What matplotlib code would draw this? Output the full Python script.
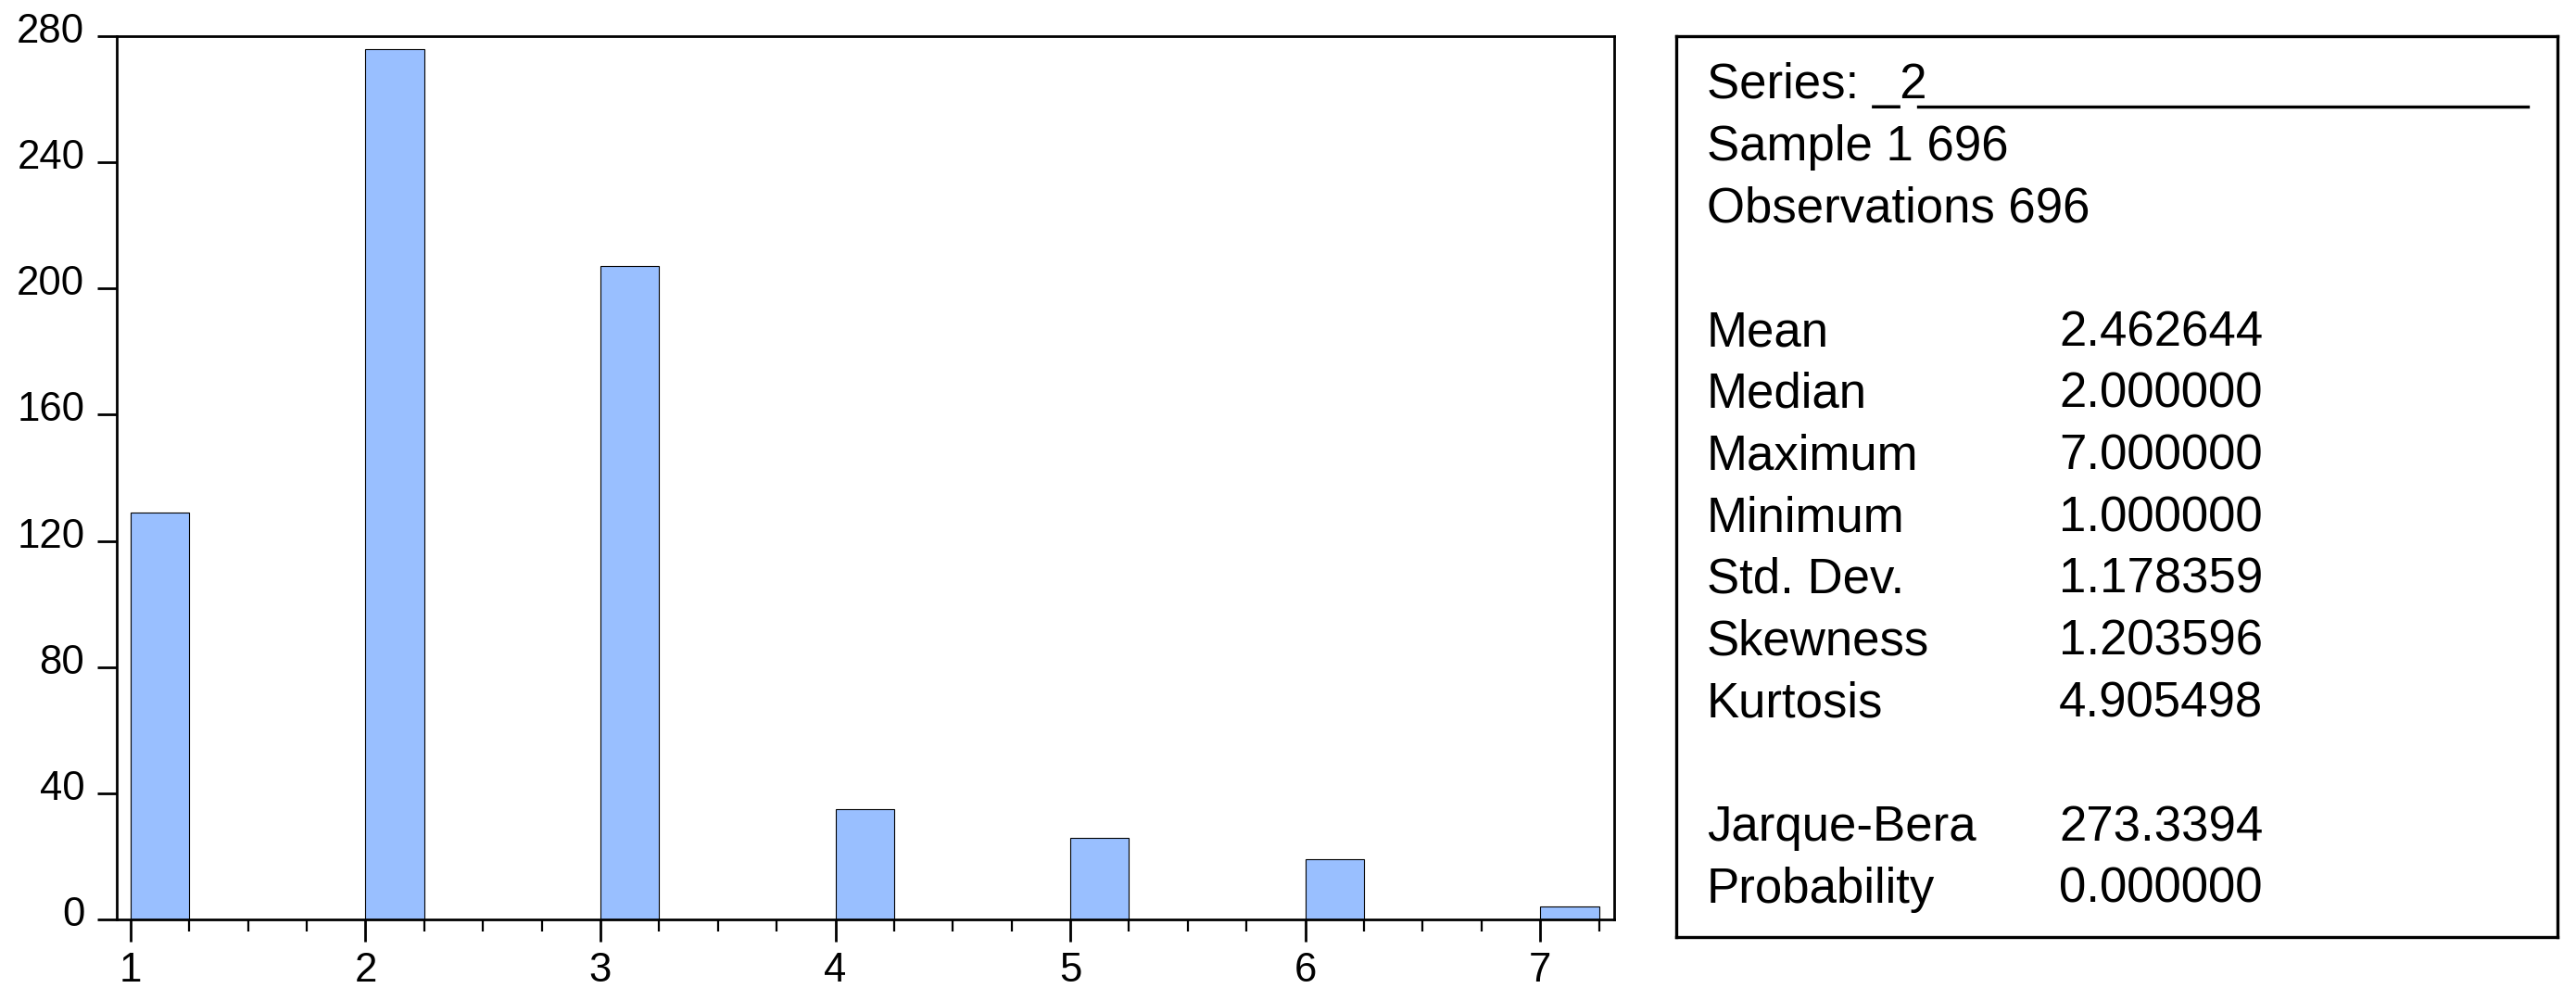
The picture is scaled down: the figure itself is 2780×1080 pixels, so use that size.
import matplotlib
matplotlib.use("Agg")
import matplotlib.pyplot as plt
import matplotlib.transforms as mtransforms
from matplotlib.lines import Line2D
import numpy as np

# ---- data ----
categories = [1, 2, 3, 4, 5, 6, 7]
counts = [129, 276, 207, 35, 26, 19, 4]
yticks = [0, 40, 80, 120, 160, 200, 240, 280]
series_name = "_2"
header_lines = ["Sample 1 696", "Observations 696"]
stat_labels = ["Mean", "Median", "Maximum", "Minimum", "Std. Dev.", "Skewness", "Kurtosis"]
stat_values = ["2.462644", "2.000000", "7.000000", "1.000000", "1.178359", "1.203596", "4.905498"]
test_labels = ["Jarque-Bera", "Probability"]
test_values = ["273.3394", "0.000000"]

plt.rcParams['font.family'] = ['Liberation Sans', 'DejaVu Sans']

W, H = 2780, 1080
DPI = 100
fig = plt.figure(figsize=(W / DPI, H / DPI), dpi=DPI)
fig.patch.set_facecolor('white')

def fx(px):
    return px / W

def fy(py):
    return 1 - py / H

# histogram axes
left, right, top, bottom = 126, 1742, 39, 992
ax = fig.add_axes([fx(left), fy(bottom), fx(right - left), (bottom - top) / H])
ax.bar(categories, counts, width=0.25, align='edge', color='#99bfff',
       edgecolor='black', linewidth=0.8, zorder=2)
ax.set_xlim(0.941, 7.315)
ax.set_ylim(0, 280)
ax.set_yticks(yticks)
ax.set_xticks(categories)
ax.set_xticks(np.arange(1, 7.3, 0.25), minor=True)
for s in ax.spines.values():
    s.set_linewidth(2.0)
ax.tick_params(axis='y', which='major', length=15, width=2.0, pad=10, labelsize=31.5, direction='out')
ax.tick_params(axis='x', which='major', length=17.3, width=2.0, pad=8, labelsize=31.5, direction='out')
ax.tick_params(axis='x', which='minor', length=9.4, width=1.6, direction='out')
ax.tick_params(axis='y', which='minor', left=False)
offset = mtransforms.ScaledTranslation(0, 9 / DPI, fig.dpi_scale_trans)
for lab in ax.get_yticklabels():
    lab.set_transform(lab.get_transform() + offset)

# statistics box
bl, br, bt, bb = 1809, 2760, 39, 1011
box = fig.add_axes([fx(bl), fy(bb), fx(br - bl), (bb - bt) / H])
box.set_xticks([])
box.set_yticks([])
for s in box.spines.values():
    s.set_linewidth(2.4)

fs = 38
x_lab = 1842
x_val = 2222
base0 = 106
step = 66.75

def line_y(k):
    return fy(base0 + k * step)

fig.text(fx(x_lab), line_y(0), "Series: " + series_name, fontsize=fs, va='baseline', ha='left')
fig.add_artist(Line2D([fx(2070), fx(2728)], [fy(115), fy(115)], color='black',
                      linewidth=2.4, transform=fig.transFigure))
for i, t in enumerate(header_lines):
    fig.text(fx(x_lab), line_y(1 + i), t, fontsize=fs, va='baseline', ha='left')
for i, (lab, val) in enumerate(zip(stat_labels, stat_values)):
    fig.text(fx(x_lab), line_y(4 + i), lab, fontsize=fs, va='baseline', ha='left')
    fig.text(fx(x_val), line_y(4 + i), val, fontsize=fs, va='baseline', ha='left')
for i, (lab, val) in enumerate(zip(test_labels, test_values)):
    fig.text(fx(x_lab), line_y(12 + i), lab, fontsize=fs, va='baseline', ha='left')
    fig.text(fx(x_val), line_y(12 + i), val, fontsize=fs, va='baseline', ha='left')

fig.savefig("out.png", dpi=DPI, facecolor='white')
